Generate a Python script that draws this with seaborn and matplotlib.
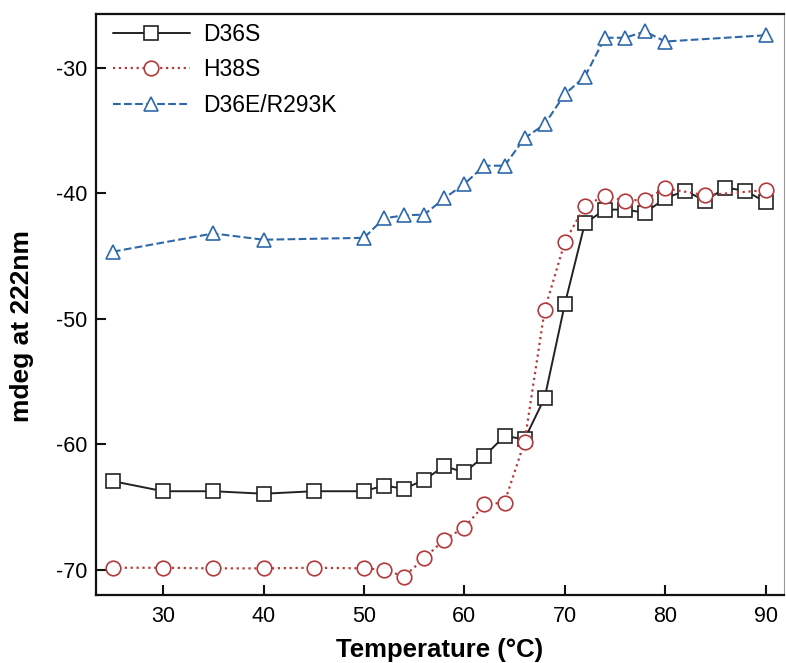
import matplotlib
matplotlib.use("Agg")
import matplotlib.pyplot as plt
import seaborn as sns

# temperatures (°C) and CD signal at 222 nm
temp_d36s = [25, 30, 35, 40, 45, 50, 52, 54, 56, 58, 60, 62, 64, 66, 68, 70,
             72, 74, 76, 78, 80, 82, 84, 86, 88, 90]
mdeg_d36s = [-62.95, -63.75, -63.75, -63.95, -63.75, -63.75, -63.3, -63.55, -62.85,
             -61.75, -62.25, -60.95, -59.35, -59.6, -56.3, -48.85,
             -42.4, -41.3, -41.3, -41.55, -40.4, -39.8, -40.6, -39.55, -39.8, -40.7]

temp_h38s = [25, 30, 35, 40, 45, 50, 52, 54, 56, 58, 60, 62, 64, 66, 68, 70,
             72, 74, 76, 78, 80, 84, 90]
mdeg_h38s = [-69.85, -69.85, -69.9, -69.9, -69.85, -69.9, -70.0, -70.55, -69.1,
             -67.6, -66.65, -64.8, -64.65, -59.8, -49.3, -43.9,
             -41.0, -40.2, -40.6, -40.5, -39.6, -40.15, -39.75]

temp_mut = [25, 35, 40, 50, 52, 54, 56, 58, 60, 62, 64, 66, 68, 70, 72, 74,
            76, 78, 80, 90]
mdeg_mut = [-44.65, -43.2, -43.7, -43.55, -42.0, -41.75, -41.7, -40.4, -39.25,
            -37.8, -37.8, -35.6, -34.5, -32.1, -30.7, -27.6, -27.6, -27.1,
            -27.9, -27.4]

sns.set_style("ticks")
plt.rcParams["font.family"] = ["Liberation Sans", "DejaVu Sans"]
plt.rcParams["axes.unicode_minus"] = False

fig, ax = plt.subplots(figsize=(7.86, 6.63), dpi=100)
fig.subplots_adjust(left=0.122, right=0.997, top=0.979, bottom=0.103)

sns.lineplot(x=temp_d36s, y=mdeg_d36s, ax=ax, color="#222222", linestyle="-",
             marker="s", markersize=9.5, markerfacecolor="white",
             markeredgecolor="#222222", markeredgewidth=1.2, linewidth=1.4,
             label="D36S")
sns.lineplot(x=temp_h38s, y=mdeg_h38s, ax=ax, color="#b23a3a", linestyle=":",
             marker="o", markersize=10.5, markerfacecolor="white",
             markeredgecolor="#b23a3a", markeredgewidth=1.2, linewidth=1.6,
             label="H38S")
sns.lineplot(x=temp_mut, y=mdeg_mut, ax=ax, color="#2e68ab", linestyle="--",
             marker="^", markersize=10.5, markerfacecolor="white",
             markeredgecolor="#2e68ab", markeredgewidth=1.2, linewidth=1.5,
             label="D36E/R293K")

ax.set_xlim(23.3, 91.8)
ax.set_ylim(-72.0, -25.7)
ax.set_xticks([30, 40, 50, 60, 70, 80, 90])
ax.set_yticks([-70, -60, -50, -40, -30])
ax.tick_params(direction="in", length=7, width=1.5, labelsize=15.5,
               labelcolor="black", color="#111111")
ax.tick_params(axis="y", pad=6)
ax.tick_params(axis="x", pad=8)

for side in ["left", "bottom", "top"]:
    ax.spines[side].set_linewidth(1.6)
    ax.spines[side].set_color("#111111")
ax.spines["right"].set_linewidth(0.8)
ax.spines["right"].set_color("#999999")

ax.set_xlabel("Temperature (°C)", fontsize=18.5, fontweight="bold",
              labelpad=8, color="black")
ax.set_ylabel("mdeg at 222nm", fontsize=19, fontweight="bold", color="black")
ax.yaxis.set_label_coords(-0.09, 0.463)

leg = ax.legend(loc="upper left", frameon=False, fontsize=16.5,
                handlelength=3.36, handletextpad=0.57, labelspacing=0.55,
                borderpad=0.3, borderaxespad=0,
                bbox_to_anchor=(0.0145, 0.997))
for t in leg.get_texts():
    t.set_color("black")

fig.savefig("out.png", dpi=100)
